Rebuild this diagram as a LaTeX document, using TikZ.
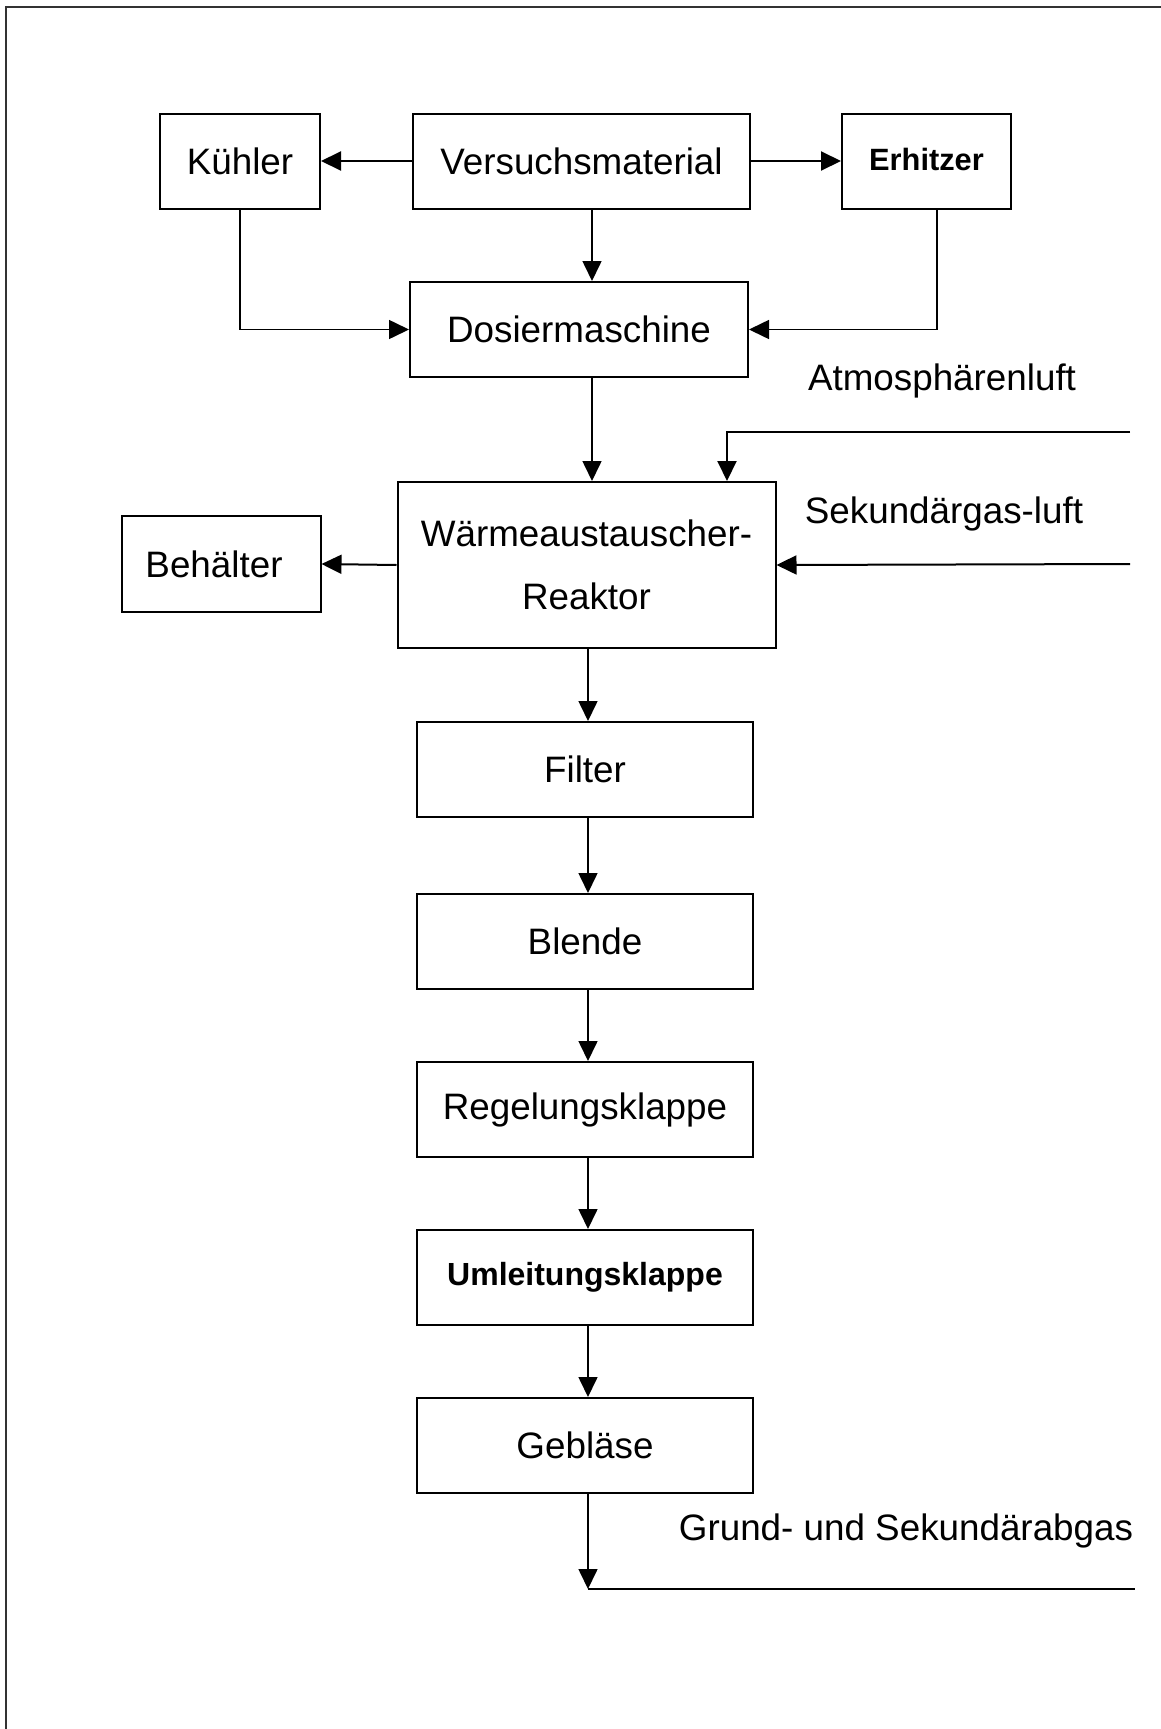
\documentclass[tikz,border=0pt]{standalone}
\usepackage{fontspec}
\setmainfont{Liberation Sans}
\usetikzlibrary{arrows.meta}
\begin{document}
\begin{tikzpicture}[x=0.5pt,y=-0.5pt,
  box/.style={draw,line width=1pt,inner sep=0pt,minimum height=47.5pt,font=\fontsize{18.4pt}{22pt}\selectfont,align=center},
  lbl/.style={inner sep=0pt,font=\fontsize{18.4pt}{22pt}\selectfont},
  conn/.style={line width=0.8pt,-{Triangle[length=10pt,width=9.5pt]}},
  plain/.style={line width=0.9pt}]
\useasboundingbox (0,0) rectangle (1161,1729);
\draw[line width=0.6pt,black!80] (1161,7) -- (6,7) -- (6,1729);
% nodes
\node[box,minimum width=80pt] (kuehler) at (240,161) {Kühler};
\node[box,minimum width=168.5pt] (vm) at (581.5,161) {Versuchsmaterial};
\node[box,minimum width=84.5pt,font=\fontsize{15.4pt}{19pt}\selectfont\bfseries] (erh) at (926.5,161) {\raisebox{1.5pt}{Erhitzer}};
\node[box,minimum width=169pt] (dos) at (579,329.5) {Dosiermaschine};
\node[box,minimum width=189pt,minimum height=83pt,font=\fontsize{18.4pt}{31.5pt}\selectfont] (wa) at (586.5,565) {Wärmeaustauscher-\\Reaktor};
\node[box,minimum width=99.5pt,minimum height=48pt] (beh) at (221,564) {\hspace*{-7pt}Behälter};
\node[box,minimum width=168pt] (filter) at (585,769.5) {Filter};
\node[box,minimum width=168pt] (blende) at (585,941.5) {Blende};
\node[box,minimum width=168pt] (regel) at (585,1109.5) {Regelungsklappe};
\node[box,minimum width=168pt,font=\fontsize{16pt}{19pt}\selectfont\bfseries] (umleit) at (585,1277.5) {Umleitungsklappe};
\node[box,minimum width=168pt] (geblaese) at (585,1445.5) {Gebläse};
% labels
\node[lbl] (atm) at (942,381) {Atmosphärenluft};
\node[lbl] (sek) at (944,514) {Sekundärgas-luft};
\node[lbl] (grund) at (906,1531) {Grund- und Sekundärabgas};
% helper coordinates
\coordinate (c1) at (592,0);
\coordinate (c2) at (937,0);
\coordinate (c3) at (727,0);
\coordinate (c4) at (588,0);
\coordinate (atmin) at (1130,432);
\coordinate (sekin) at (1130,564);
\coordinate (out) at (588,1589);
\coordinate (outend) at (1135,1589);
% connectors
\draw[conn,line width=1pt] (vm.west) -- (kuehler.east);
\draw[conn,line width=1pt] (vm.east) -- (erh.west);
\draw[conn] (vm.south -| c1) -- (dos.north -| c1);
\draw[conn] (kuehler.south) |- (dos.west);
\draw[conn] (erh.south -| c2) |- (dos.east);
\draw[conn] (dos.south -| c1) -- (wa.north -| c1);
\draw[conn,line width=1pt] (atmin) -| (wa.north -| c3);
\draw[conn,line width=1pt] (sekin) -- (wa.east);
\draw[conn,line width=1pt] (wa.west) -- (beh.east);
\draw[conn] (wa.south -| c4) -- (filter.north -| c4);
\draw[conn] (filter.south -| c4) -- (blende.north -| c4);
\draw[conn] (blende.south -| c4) -- (regel.north -| c4);
\draw[conn] (regel.south -| c4) -- (umleit.north -| c4);
\draw[conn] (umleit.south -| c4) -- (geblaese.north -| c4);
\draw[conn] (geblaese.south -| c4) -- (out);
\draw[plain] (out) -- (outend);
\end{tikzpicture}
\end{document}
